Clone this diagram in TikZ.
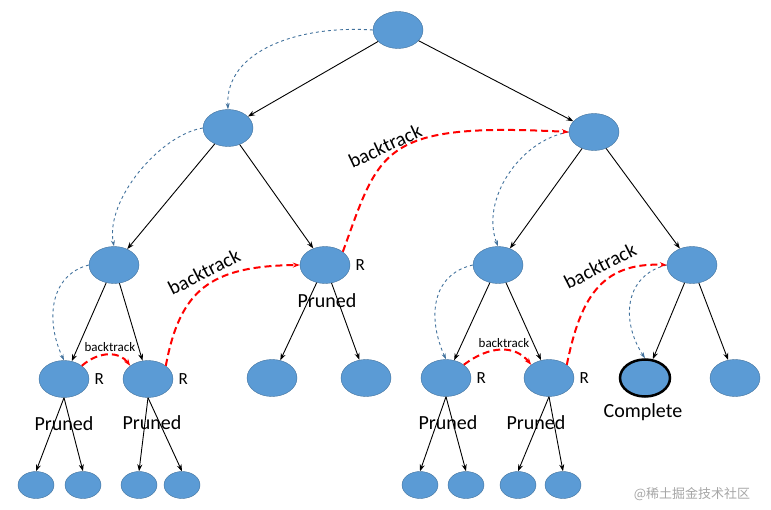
\documentclass[tikz,border=0pt]{standalone}
\usepackage{fontspec}
\setmainfont{Carlito}
\newfontfamily\cjk{Noto Sans CJK SC}
\usetikzlibrary{shapes.geometric,arrows.meta}
\definecolor{nodefill}{HTML}{5B9BD5}
\definecolor{nodeline}{HTML}{41719C}
\definecolor{guide}{HTML}{41719C}
\begin{document}
\begin{tikzpicture}[x=1pt,y=-1pt,
  big/.style={ellipse,fill=nodefill,draw=nodeline,minimum width=50pt,minimum height=37pt,inner sep=0pt},
  small/.style={ellipse,fill=nodefill,draw=nodeline,minimum width=36pt,minimum height=27pt,inner sep=0pt},
  edge/.style={-{Stealth[length=7pt,width=5pt]},black,line width=0.9pt},
  guideline/.style={-{Stealth[length=6pt,width=4pt]},guide,dashed,line width=0.9pt},
  back/.style={-{Stealth[length=7pt,width=5pt]},red,line width=2pt,dash pattern=on 7pt off 4pt},
  lbl/.style={font=\fontsize{20}{22}\selectfont},
  rl/.style={font=\fontsize{17}{19}\selectfont}]
\useasboundingbox (0,0) rectangle (771,510);
\node[big] (r) at (398,30) {};
\node[big] (a) at (228,128) {};
\node[big] (b) at (594,132) {};
\node[big] (a1) at (114,265) {};
\node[big] (a2) at (325,265) {};
\node[big] (b1) at (498,265) {};
\node[big] (b2) at (692,265) {};
\node[big] (a1a) at (64,379) {};
\node[big] (a1b) at (148,379) {};
\node[big] (a2a) at (272,378) {};
\node[big] (a2b) at (366,378) {};
\node[big] (b1a) at (446,378) {};
\node[big] (b1b) at (549,378) {};
\node[big,draw=black,line width=2.5pt] (b2a) at (645,378) {};
\node[big] (b2b) at (735,378) {};
\node[small] (c1) at (36,485) {};
\node[small] (c2) at (83,485) {};
\node[small] (c3) at (139,485) {};
\node[small] (c4) at (182,485) {};
\node[small] (c5) at (420,485) {};
\node[small] (c6) at (466,485) {};
\node[small] (c7) at (518,485) {};
\node[small] (c8) at (563,485) {};
% tree edges
\foreach \u/\v in {r/a,r/b,a/a1,a/a2,b/b1,b/b2,a1/a1a,a1/a1b,a2/a2a,a2/a2b,b1/b1a,b1/b1b,b2/b2a,b2/b2b}
  \draw[edge] (\u) -- (\v);
\foreach \u/\v in {a1a/c1,a1a/c2,a1b/c3,a1b/c4,b1a/c5,b1a/c6,b1b/c7,b1b/c8}
  \draw[edge] (\u.south) -- (\v.north);
% search order
\draw[guideline] (r.west) .. controls (300,25) and (225,50) .. (a.north);
\draw[guideline] (a.west) .. controls (160,135) and (105,200) .. (a1.north);
\draw[guideline] (a1.west) .. controls (50,275) and (45,320) .. (a1a.north);
\draw[guideline] (b.west) .. controls (520,140) and (480,200) .. (b1.north);
\draw[guideline] (b1.west) .. controls (430,275) and (428,320) .. (b1a.north);
\draw[guideline] (b2.west) .. controls (625,275) and (620,320) .. (b2a.north);
% backtracks
\draw[back] (a1a.north east) .. controls (100,350) and (120,352) .. (a1b.north west);
\draw[back] (a1b.north east) .. controls (180,290) and (210,266) .. (a2.west);
\draw[back] (a2.north east) .. controls (380,150) and (380,122) .. (b.west);
\draw[back] (b1a.north east) .. controls (490,345) and (515,345) .. (b1b.north west);
\draw[back] (b1b.north east) .. controls (580,300) and (600,262) .. (b2.west);
\node[font=\fontsize{13}{15}\selectfont] (t1) at (110,347) {backtrack};
\node[font=\fontsize{13}{15}\selectfont] (t2) at (504,343) {backtrack};
\node[lbl,rotate=27] (t3) at (204,272) {backtrack};
\node[lbl,rotate=25] (t4) at (385,146) {backtrack};
\node[lbl,rotate=27] (t5) at (600,266) {backtrack};
% labels
\foreach \n in {a1a,a1b,a2,b1a,b1b} \node[rl,anchor=west] at ([xshift=2pt]\n.east) {R};
\node[lbl] at (64,424) {Pruned};
\node[lbl] at (152,423) {Pruned};
\node[lbl] at (327,301) {Pruned};
\node[lbl] at (448,423) {Pruned};
\node[lbl] at (536,423) {Pruned};
\node[lbl] at (643,412) {Complete};
\node[font=\cjk\fontsize{13}{15}\selectfont,text=gray!70] at (692,494) {@稀土掘金技术社区};
\end{tikzpicture}
\end{document}
